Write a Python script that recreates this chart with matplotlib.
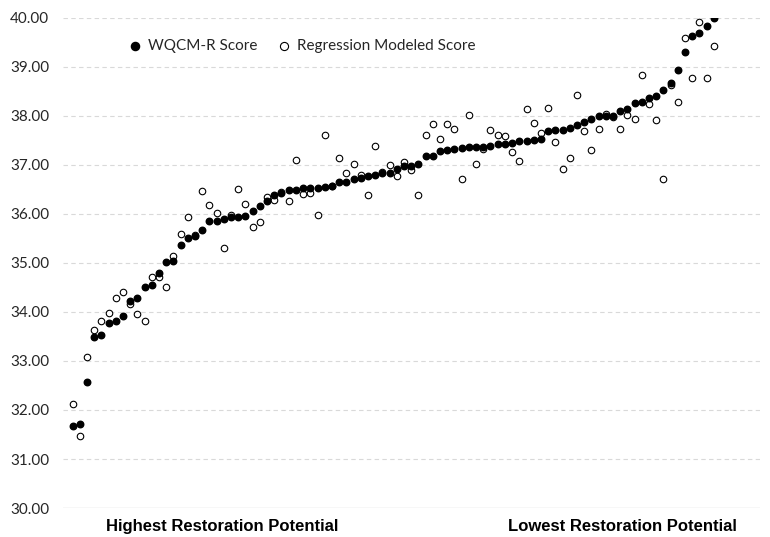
import matplotlib.pyplot as plt
import numpy as np

# WQCM-R score (sorted) and regression modeled score
wqcm = [31.67, 31.71, 32.57, 33.48, 33.54, 33.78, 33.81, 33.91, 34.23, 34.29,
        34.52, 34.56, 34.79, 35.02, 35.05, 35.37, 35.52, 35.56, 35.67, 35.86,
        35.86, 35.90, 35.93, 35.94, 35.95, 36.07, 36.16, 36.27, 36.39, 36.42,
        36.48, 36.48, 36.53, 36.53, 36.53, 36.55, 36.57, 36.65, 36.65, 36.71,
        36.74, 36.78, 36.80, 36.83, 36.84, 36.92, 36.97, 36.97, 37.02, 37.18,
        37.19, 37.28, 37.31, 37.32, 37.35, 37.37, 37.37, 37.37, 37.39, 37.43,
        37.43, 37.45, 37.48, 37.48, 37.50, 37.54, 37.69, 37.71, 37.71, 37.76,
        37.82, 37.87, 37.93, 37.99, 38.01, 38.01, 38.10, 38.15, 38.27, 38.28,
        38.37, 38.41, 38.53, 38.67, 38.94, 39.30, 39.64, 39.69, 39.84, 39.99]

modeled = [32.12, 31.46, 33.08, 33.63, 33.81, 33.97, 34.29, 34.41, 34.16, 33.95,
           33.82, 34.72, 34.71, 34.52, 35.15, 35.59, 35.94, 35.58, 36.46, 36.18,
           36.03, 35.31, 35.97, 36.50, 36.21, 35.73, 35.84, 36.35, 36.28, 36.45,
           36.27, 37.10, 36.41, 36.43, 35.98, 37.62, 36.57, 37.14, 36.84, 37.02,
           36.79, 36.39, 37.39, 36.86, 37.00, 36.78, 37.07, 36.90, 36.39, 37.61,
           37.84, 37.53, 37.84, 37.73, 36.71, 38.02, 37.03, 37.33, 37.71, 37.61,
           37.59, 37.27, 37.09, 38.14, 37.85, 37.66, 38.16, 37.46, 36.92, 37.14,
           38.42, 37.69, 37.30, 37.73, 38.04, 37.97, 37.74, 38.03, 37.93, 38.84,
           38.24, 37.92, 36.71, 38.64, 38.29, 39.60, 38.78, 39.92, 38.78, 39.42]

yticks = [30, 31, 32, 33, 34, 35, 36, 37, 38, 39, 40]
x = np.arange(1, len(wqcm) + 1)

font = ['Lato', 'DejaVu Sans']
plt.rcParams['font.family'] = font

fig = plt.figure(figsize=(7.7, 5.37), dpi=100)
ax = fig.add_axes([0.082, 0.054, 0.905, 0.9125])

ax.scatter(x, wqcm, s=22, color='black', zorder=3, label='WQCM-R Score')
ax.scatter(x, modeled, s=22, facecolor='white', edgecolor='black', linewidth=0.8,
           zorder=2, label='Regression Modeled Score')

ax.set_ylim(30, 40)
ax.set_xlim(-0.3, 96.4)
ax.set_yticks(yticks)
ax.set_yticklabels(['%.2f' % v for v in yticks], fontsize=11, color='#262626')
ax.set_xticks([])
for y in yticks[1:]:
    ax.axhline(y, color='#d9d9d9', linewidth=0.8, linestyle=(0, (4, 3)), zorder=0)
ax.axhline(30, color='#d9d9d9', linewidth=1.0, zorder=0)
for s in ax.spines.values():
    s.set_visible(False)
ax.tick_params(axis='y', length=0, pad=10)

ax.legend(loc='upper left', bbox_to_anchor=(0.073, 0.985), ncol=2, frameon=False,
          fontsize=11, handlelength=1.0, handletextpad=0.3, columnspacing=1.3,
          markerscale=1.25, labelcolor='#262626')

lab = ['Liberation Sans Narrow', 'Liberation Sans', 'DejaVu Sans']
fig.text(0.288, 0.02, 'Highest Restoration Potential', ha='center', va='center',
         fontsize=12, fontweight='bold', family=lab)
fig.text(0.808, 0.02, 'Lowest Restoration Potential', ha='center', va='center',
         fontsize=12, fontweight='bold', family=lab)

fig.savefig('out.png', dpi=100)
